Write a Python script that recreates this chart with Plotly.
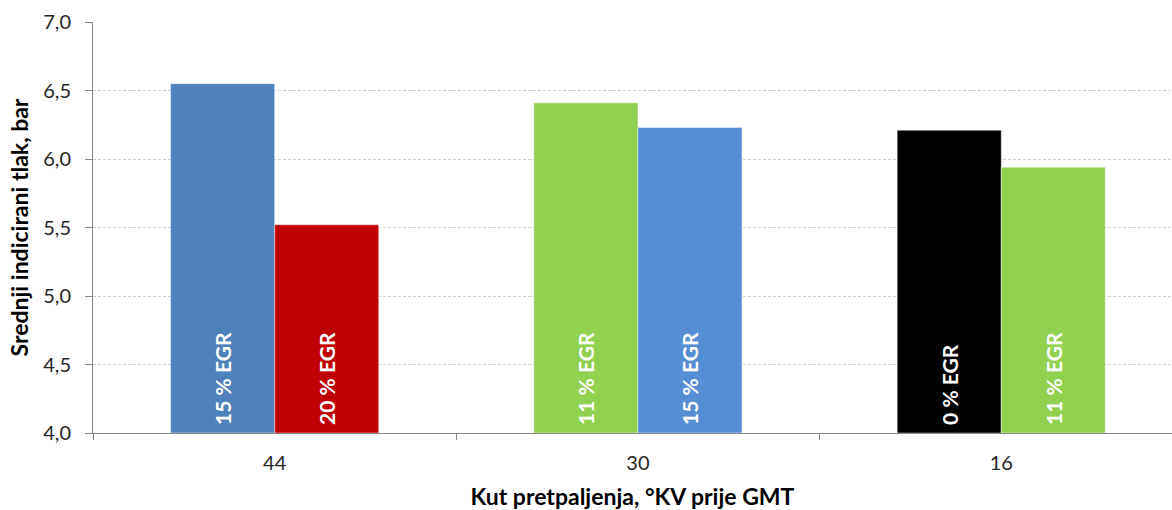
import plotly.graph_objects as go

# Spark advance angle categories (°KV before TDC)
categories = ["44", "30", "16"]

# Left bar of each group
left_values = [6.55, 6.41, 6.21]
left_labels = ["15 % EGR", "11 % EGR", "0 % EGR"]
left_colors = ["#4F81BD", "#92D050", "#000000"]

# Right bar of each group
right_values = [5.52, 6.23, 5.94]
right_labels = ["20 % EGR", "15 % EGR", "11 % EGR"]
right_colors = ["#C00000", "#558ED5", "#92D050"]

y_ticks = [4.0, 4.5, 5.0, 5.5, 6.0, 6.5, 7.0]

FONT = "Lato"
axis_grey = "#868686"

fig = go.Figure()

for vals, labels, colors in [
    (left_values, left_labels, left_colors),
    (right_values, right_labels, right_colors),
]:
    fig.add_trace(go.Bar(
        x=categories,
        y=[v - 4.0 for v in vals],
        base=4.0,
        marker=dict(color=colors, line=dict(color="rgba(255,255,255,0.45)", width=1)),
        # a leading no-break space lifts the label slightly off the baseline
        text=["\u00a0" + t for t in labels],
        textposition="inside",
        insidetextanchor="start",
        textangle=-90,
        textfont=dict(family=FONT, size=21, color="white", weight="bold"),
        cliponaxis=False,
        showlegend=False,
        hoverinfo="skip",
    ))

fig.update_layout(
    width=1172,
    height=510,
    margin=dict(l=93, r=0, t=22, b=77),
    paper_bgcolor="white",
    plot_bgcolor="white",
    barmode="group",
    bargap=0.427,
    bargroupgap=0,
    separators=", ",
    font=dict(family=FONT, color="#262626"),
)

fig.update_xaxes(
    type="category",
    range=[-0.5, 2.47],
    showline=True,
    linecolor=axis_grey,
    linewidth=1,
    ticks="outside",
    tickson="boundaries",
    ticklen=6,
    tickcolor=axis_grey,
    ticklabelstandoff=12,
    tickfont=dict(family=FONT, size=20, color="#262626"),
    showgrid=False,
    title=dict(
        text="Kut pretpaljenja, °KV prije GMT",
        font=dict(family=FONT, size=23, color="#000000", weight="bold"),
        standoff=15,
    ),
)

fig.update_yaxes(
    range=[4.0, 7.0],
    tickvals=y_ticks,
    tickformat=".1f",
    showline=True,
    linecolor=axis_grey,
    linewidth=1,
    ticks="outside",
    ticklen=7,
    tickcolor=axis_grey,
    ticklabelstandoff=10,
    tickfont=dict(family=FONT, size=20, color="#262626"),
    showgrid=True,
    gridcolor="#CFCFCF",
    griddash="3px,2px",
    gridwidth=1,
    zeroline=False,
    title=dict(
        text="Srednji indicirani tlak, bar",
        font=dict(family=FONT, size=23, color="#000000", weight="bold"),
        standoff=8,
    ),
)

fig.write_html("out.html")
